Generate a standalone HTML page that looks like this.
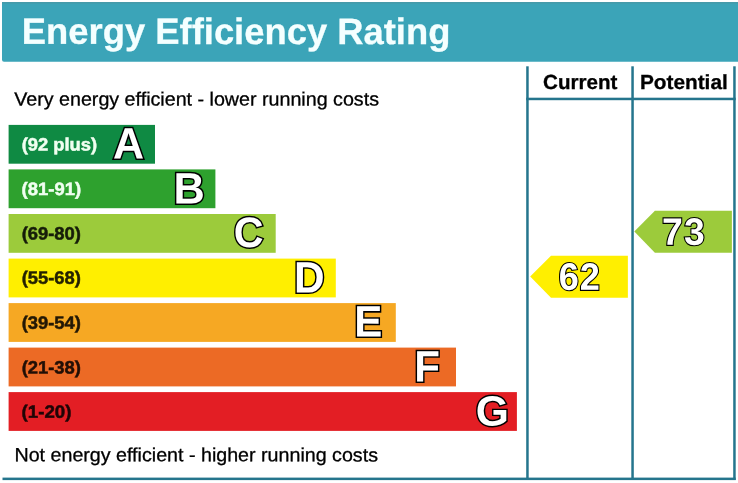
<!DOCTYPE html>
<html lang="en">
<head>
<meta charset="utf-8">
<title>Energy Efficiency Rating</title>
<style>
  html, body { margin: 0; padding: 0; background: #ffffff; }
  body { width: 738px; height: 483px; overflow: hidden; }
  svg { display: block; }
  text { font-family: "Liberation Sans", Arial, Helvetica, sans-serif; }
  .title { font-weight: bold; fill: #f4ffff; stroke: #f4ffff; stroke-width: 0.3px; }
  .note { fill: #000000; stroke: #000000; stroke-width: 0.3px; }
  .col { font-weight: bold; fill: #000000; stroke: #000000; stroke-width: 0.3px; }
  .range { font-weight: bold; fill: #000000; stroke: #000000; stroke-width: 0.5px; opacity: 0.86; }
  .range.light { fill: #f0fff0; stroke: #f0fff0; opacity: 1; }
  .letter, .score { font-weight: bold; fill: #ffffff; stroke: #000000; stroke-width: 3.0px; paint-order: stroke fill; stroke-linejoin: miter; stroke-miterlimit: 2.5; }
  .score { stroke-width: 2.2px; letter-spacing: 1.0px; }
  .line { fill: #25758d; }
</style>
</head>
<body>
<svg width="738" height="483" viewBox="0 0 738 483" role="img" aria-label="Energy Efficiency Rating chart">
  <rect x="0" y="0" width="738" height="483" fill="#ffffff"/>

  <!-- header band -->
  <path d="M2 2 H738 V61.8 H4 Q2 61.8 2 59.8 Z" fill="#3ba4b8"/>
  <rect x="2" y="2" width="736" height="1.6" fill="#469aaa"/>
  <text class="title" font-size="36.6" transform="translate(21.863 43.8) rotate(0.03) scale(0.994 1)">Energy Efficiency Rating</text>

  <!-- rating grid -->
  <rect class="line" x="526.2" y="66.3" width="2.5" height="413.7"/>
  <rect class="line" x="631.3" y="66.3" width="2.5" height="413.7"/>
  <rect class="line" x="733.2" y="66.3" width="2.5" height="413.7"/>
  <rect class="line" x="526.2" y="97.7" width="209.5" height="2.5"/>
  <rect class="line" x="2.5" y="477.6" width="733.2" height="2.5"/>
  <text class="note" font-size="19.1" transform="translate(14.2 105.4) rotate(0.03) scale(1.031 1)">Very energy efficient - lower running costs</text>
  <text class="note" font-size="19.1" transform="translate(14.455 461.2) rotate(0.03) scale(1.03 1)">Not energy efficient - higher running costs</text>
  <text class="col" font-size="20.4" transform="translate(543.043 88.9) rotate(0.03) scale(1.009 1)">Current</text>
  <text class="col" font-size="20.4" transform="translate(639.925 88.9) rotate(0.03) scale(1.02 1)">Potential</text>

  <!-- bands -->
  <rect x="8.6" y="124.9" width="146.4" height="38.8" fill="#0f8a43"/>
  <rect x="8.6" y="169.4" width="206.8" height="38.8" fill="#2ea12e"/>
  <rect x="8.6" y="214" width="267.1" height="38.8" fill="#9ccb3b"/>
  <rect x="8.6" y="258.6" width="327.2" height="38.8" fill="#ffef00"/>
  <rect x="8.6" y="303.1" width="387.2" height="38.8" fill="#f6a823"/>
  <rect x="8.6" y="347.6" width="447.4" height="38.8" fill="#ec6a25"/>
  <rect x="8.6" y="392.1" width="508.3" height="38.8" fill="#e31e24"/>
  <text class="range light" font-size="17.8" transform="translate(21.626 150.5) rotate(0.03) scale(1.031 1)">(92 plus)</text>
  <text class="range light" font-size="17.8" transform="translate(21.622 195) rotate(0.03) scale(1.038 1)">(81-91)</text>
  <text class="range" font-size="17.8" transform="translate(21.625 239.6) rotate(0.03) scale(1.034 1)">(69-80)</text>
  <text class="range" font-size="17.8" transform="translate(21.625 283.8) rotate(0.03) scale(1.034 1)">(55-68)</text>
  <text class="range" font-size="17.8" transform="translate(21.625 328.7) rotate(0.03) scale(1.034 1)">(39-54)</text>
  <text class="range" font-size="17.8" transform="translate(21.625 373.4) rotate(0.03) scale(1.034 1)">(21-38)</text>
  <text class="range" font-size="17.8" transform="translate(21.614 417.8) rotate(0.03) scale(1.048 1)">(1-20)</text>

  <!-- arrows -->
  <polygon points="530.2,276.6 551,255.8 627.9,255.8 627.9,297.8 551,297.8" fill="#ffef00"/>
  <polygon points="634.3,231.6 654.9,210.8 731.9,210.8 731.9,252.8 654.9,252.8" fill="#9ccb3b"/>

  <!-- band letters and scores -->
  <text class="letter" font-size="43" transform="translate(113 158.468) rotate(0.03) scale(1 1.022)">A</text>
  <text class="letter" font-size="43" transform="translate(173.39 203.463) rotate(0.03) scale(1.007 1.025)">B</text>
  <text class="letter" font-size="43" transform="translate(233.66 247.018) rotate(0.03) scale(0.959 0.991)">C</text>
  <text class="letter" font-size="43" transform="translate(294.023 292.468) rotate(0.03) scale(0.985 1.022)">D</text>
  <text class="letter" font-size="43" transform="translate(354.333 336.563) rotate(0.03) scale(0.978 1.025)">E</text>
  <text class="letter" font-size="43" transform="translate(414.333 381.468) rotate(0.03) scale(0.978 1.022)">F</text>
  <text class="letter" font-size="43" transform="translate(475.652 425.624) rotate(0.03) scale(0.991 0.988)">G</text>
  <text class="score" font-size="37" transform="translate(558.756 289.753) rotate(0.03) scale(0.976 1.032)">62</text>
  <text class="score" font-size="37" transform="translate(662.095 244.753) rotate(0.03) scale(1.01 1.032)">73</text>
</svg>
</body>
</html>
